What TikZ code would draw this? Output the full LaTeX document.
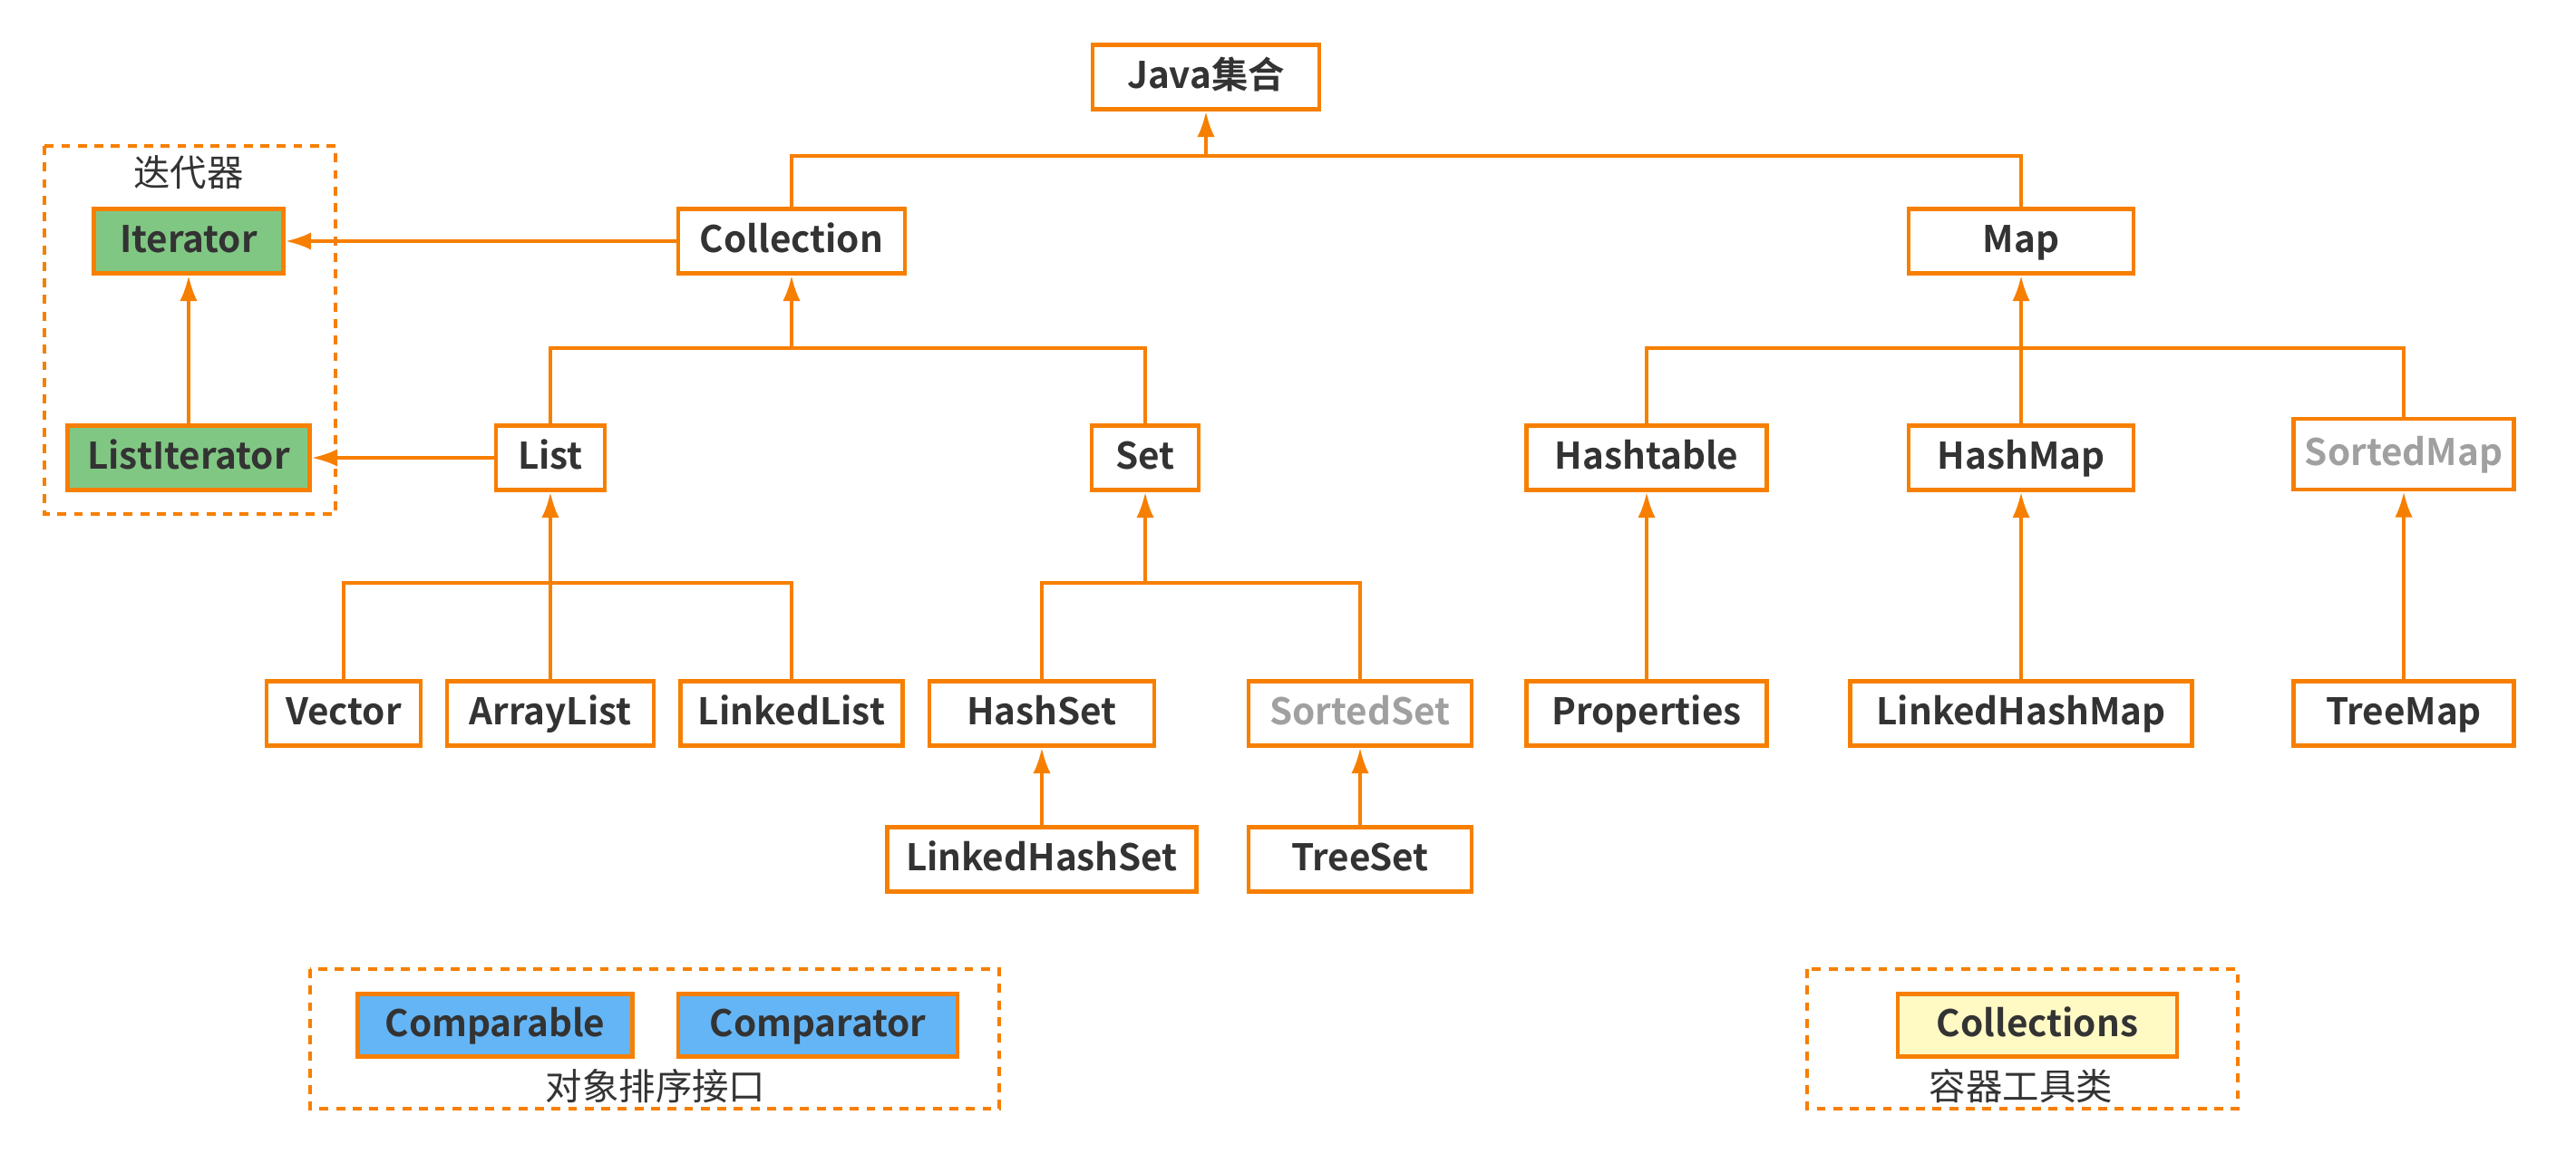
\documentclass[tikz,border=0pt]{standalone}
\usepackage{fontspec}
\setmainfont{Noto Sans CJK SC}[BoldFont={Noto Sans CJK SC Bold}]
\usetikzlibrary{arrows.meta}
\definecolor{jorange}{HTML}{F77F00}
\definecolor{jtext}{HTML}{333333}
\definecolor{jgray}{HTML}{A0A0A0}
\definecolor{jgreen}{HTML}{81C784}
\definecolor{jblue}{HTML}{64B5F6}
\definecolor{jyellow}{HTML}{FFF9C4}

\begin{document}
\begin{tikzpicture}[
		cls/.style={draw=jorange, line width=1.4pt, fill=white, text=jtext, font=\bfseries\fontsize{11.5}{12}\selectfont, minimum height=0.71cm, inner sep=0pt, text height=0.72em, text depth=0em},
		abs/.style={cls, text=jgray},
		lien/.style={draw=jorange, line width=1pt},
		fleche/.style={lien, -{Latex[length=8pt,width=5.5pt]}},
		groupe/.style={draw=jorange, line width=1pt, dash pattern=on 2.8pt off 2.4pt},
		legende/.style={text=jtext, font=\fontsize{11.5}{12}\selectfont}]
		\useasboundingbox (0,0) rectangle (28.41,-12.72);
		
		% Groupes
		\draw[groupe] (0.49,-1.61) rectangle (3.70,-5.67);
		\draw[groupe] (3.42,-10.69) rectangle (11.02,-12.23);
		\draw[groupe] (19.93,-10.69) rectangle (24.68,-12.23);
		\node[legende] (titreiter) at (2.08,-1.90) {迭代器};
		\node[legende] (titretri) at (7.23,-11.98) {对象排序接口};
		\node[legende] (titreoutil) at (22.29,-11.98) {容器工具类};
		
		% Racine et interfaces
		\node[cls, minimum width=2.5cm] (java) at (13.30,-0.85) {Java集合};
		\node[cls, minimum width=2.5cm] (coll) at (8.73,-2.66) {Collection};
		\node[cls, minimum width=2.48cm] (map) at (22.29,-2.66) {Map};
		\node[cls, fill=jgreen, minimum width=2.09cm] (iter) at (2.08,-2.66) {Iterator};
		\node[cls, fill=jgreen, minimum width=2.67cm] (liter) at (2.08,-5.05) {ListIterator};
		\node[cls, minimum width=1.2cm] (list) at (6.07,-5.05) {List};
		\node[cls, minimum width=1.18cm] (set) at (12.63,-5.05) {Set};
		\node[cls, minimum width=2.65cm] (htab) at (18.16,-5.05) {Hashtable};
		\node[cls, minimum width=2.48cm] (hmap) at (22.29,-5.05) {HashMap};
		\node[abs, minimum width=2.43cm, minimum height=0.78cm] (smap) at (26.51,-5.01) {SortedMap};
		
		% Classes
		\node[cls, minimum width=1.7cm] (vec) at (3.79,-7.87) {Vector};
		\node[cls, minimum width=2.28cm] (alist) at (6.07,-7.87) {ArrayList};
		\node[cls, minimum width=2.45cm] (llist) at (8.73,-7.87) {LinkedList};
		\node[cls, minimum width=2.48cm] (hset) at (11.49,-7.87) {HashSet};
		\node[abs, minimum width=2.46cm] (sset) at (15.00,-7.87) {SortedSet};
		\node[cls, minimum width=3.41cm] (lhset) at (11.49,-9.48) {LinkedHashSet};
		\node[cls, minimum width=2.46cm] (tset) at (15.00,-9.48) {TreeSet};
		\node[cls, minimum width=2.65cm] (prop) at (18.16,-7.87) {Properties};
		\node[cls, minimum width=3.77cm] (lhmap) at (22.29,-7.87) {LinkedHashMap};
		\node[cls, minimum width=2.43cm] (tmap) at (26.51,-7.87) {TreeMap};
		\node[cls, fill=jblue, minimum width=3.03cm, minimum height=0.69cm] (cmpb) at (5.46,-11.31) {Comparable};
		\node[cls, fill=jblue, minimum width=3.08cm, minimum height=0.69cm] (cmpt) at (9.02,-11.31) {Comparator};
		\node[cls, fill=jyellow, minimum width=3.08cm, minimum height=0.69cm] (colls) at (22.47,-11.31) {Collections};
		
		% Liaisons
		\coordinate (b0) at (13.30,-1.72);
		\coordinate (b1) at (8.73,-3.84);
		\coordinate (b2) at (22.29,-3.84);
		\coordinate (b3) at (6.07,-6.43);
		\coordinate (b4) at (12.63,-6.43);
		\draw[lien] (coll.north) |- (b0) -| (map.north);
		\draw[fleche] (b0) -- (java.south);
		\draw[lien] (list.north) |- (b1) -| (set.north);
		\draw[fleche] (b1) -- (coll.south);
		\draw[lien] (htab.north) |- (b2) -| (smap.north);
		\draw[lien] (vec.north) |- (b3) -| (llist.north);
		\draw[lien] (hset.north) |- (b4) -| (sset.north);
		\draw[fleche] (b4) -- (set.south);
		\foreach \a/\b in {hmap/map, alist/list, lhset/hset, tset/sset, prop/htab, lhmap/hmap, tmap/smap, liter/iter}
			\draw[fleche] (\a.north) -- (\b.south);
		\draw[fleche] (coll.west) -- (iter.east);
		\draw[fleche] (list.west) -- (liter.east);
\end{tikzpicture}
\end{document}
